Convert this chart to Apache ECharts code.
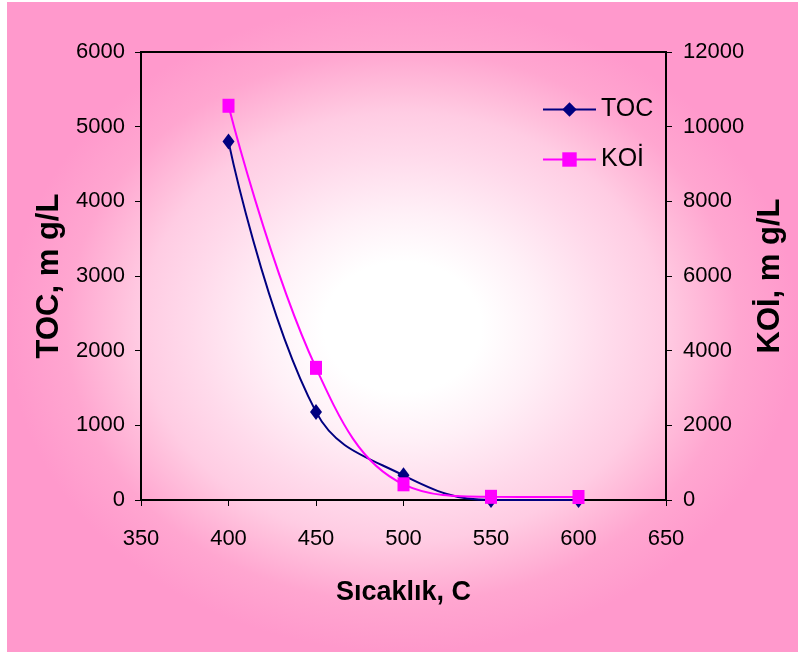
<!DOCTYPE html>
<html>
<head>
<meta charset="utf-8">
<script src="https://cdn.jsdelivr.net/npm/echarts@6/dist/echarts.min.js"></script>
<style>
  html, body { margin: 0; padding: 0; background: #ffffff; }
  #chart { width: 798px; height: 652px; }
</style>
</head>
<body>
<div id="chart"></div>
<script>
// Temperature (°C) on the x axis
const temperatures = [400, 450, 500, 550, 600];
// TOC concentration, mg/L (left axis)
const tocValues = [4800, 1180, 330, 0, 0];
// KOİ concentration, mg/L (right axis)
const koiValues = [10560, 3540, 420, 85, 80];

const xTicks = { min: 350, max: 650, interval: 50 };
const tocTicks = { min: 0, max: 6000, interval: 1000 };
const koiTicks = { min: 0, max: 12000, interval: 2000 };

const font = '"Liberation Sans", Arial, sans-serif';

const chart = echarts.init(document.getElementById('chart'), null, { renderer: 'canvas' });

// Pink background shading out from a white centre; a square with a
// radial fill, squashed vertically to the chart's proportions.
const bgWidth = 791, bgHeight = 650;
const background = {
  type: 'rect',
  z: -10,
  silent: true,
  x: 7, y: 2,
  scaleY: bgHeight / bgWidth,
  shape: { x: 0, y: 0, width: bgWidth, height: bgWidth },
  style: {
    fill: new echarts.graphic.RadialGradient(0.5, 0.5, 0.5, [
      { offset: 0, color: '#ffffff' },
      { offset: 0.2, color: '#ffffff' },
      { offset: 0.35, color: '#fff0f7' },
      { offset: 0.53, color: '#ffdaeb' },
      { offset: 0.66, color: '#ffcce3' },
      { offset: 0.72, color: '#ffc0dc' },
      { offset: 0.85, color: '#ffa6d0' },
      { offset: 1, color: '#ff99cc' }
    ])
  }
};

const axisLine = { show: true, onZero: false, lineStyle: { color: '#000', width: 2 } };
const axisTick = { show: true, inside: false, length: 6, lineStyle: { color: '#000', width: 1 } };
const labelStyle = { color: '#000', fontFamily: font, fontSize: 22, formatter: v => String(v) };
const titleStyle = { color: '#000', fontFamily: font, fontWeight: 'bold', fontSize: 31 };

chart.setOption({
  backgroundColor: '#ffffff',
  animation: false,
  graphic: [background],
  grid: {
    left: 141, right: 132, top: 52, bottom: 152,
    outerBoundsMode: 'none',
    containLabel: false,
    show: true, borderColor: '#000', borderWidth: 2, backgroundColor: 'transparent'
  },
  legend: {
    orient: 'vertical',
    left: 542, top: 97, padding: 0,
    itemWidth: 53, itemHeight: 18, itemGap: 25,
    textStyle: { color: '#000', fontFamily: font, fontSize: 25 },
    data: ['TOC', 'KOİ']
  },
  xAxis: {
    type: 'value',
    min: xTicks.min, max: xTicks.max, interval: xTicks.interval,
    name: 'Sıcaklık, C',
    nameLocation: 'middle',
    nameGap: 79,
    nameTextStyle: Object.assign({}, titleStyle, { fontSize: 27 }),
    axisLine, axisTick,
    axisLabel: Object.assign({ margin: 28 }, labelStyle),
    splitLine: { show: false }
  },
  yAxis: [{
    type: 'value',
    position: 'left',
    min: tocTicks.min, max: tocTicks.max, interval: tocTicks.interval,
    name: 'TOC, m g/L',
    nameLocation: 'middle',
    nameRotate: 90,
    nameGap: 51,
    nameTextStyle: titleStyle,
    axisLine, axisTick,
    axisLabel: Object.assign({ margin: 16 }, labelStyle),
    splitLine: { show: false }
  }, {
    type: 'value',
    position: 'right',
    min: koiTicks.min, max: koiTicks.max, interval: koiTicks.interval,
    name: 'KOİ, m g/L',
    nameLocation: 'middle',
    nameRotate: 90,
    nameGap: 73,
    nameTextStyle: titleStyle,
    axisLine, axisTick,
    axisLabel: Object.assign({ margin: 17 }, labelStyle),
    splitLine: { show: false }
  }],
  series: [{
    name: 'TOC',
    type: 'line',
    yAxisIndex: 0,
    smooth: 0.4,
    symbol: 'diamond',
    symbolSize: [12, 16],
    lineStyle: { color: '#000080', width: 2 },
    itemStyle: { color: '#000080' },
    data: temperatures.map((t, i) => [t, tocValues[i]]),
    z: 3
  }, {
    name: 'KOİ',
    type: 'line',
    yAxisIndex: 1,
    smooth: 0.4,
    symbol: 'rect',
    symbolSize: [12, 14],
    lineStyle: { color: '#ff00ff', width: 2 },
    itemStyle: { color: '#ff00ff' },
    data: temperatures.map((t, i) => [t, koiValues[i]]),
    z: 4
  }]
});
</script>
</body>
</html>
